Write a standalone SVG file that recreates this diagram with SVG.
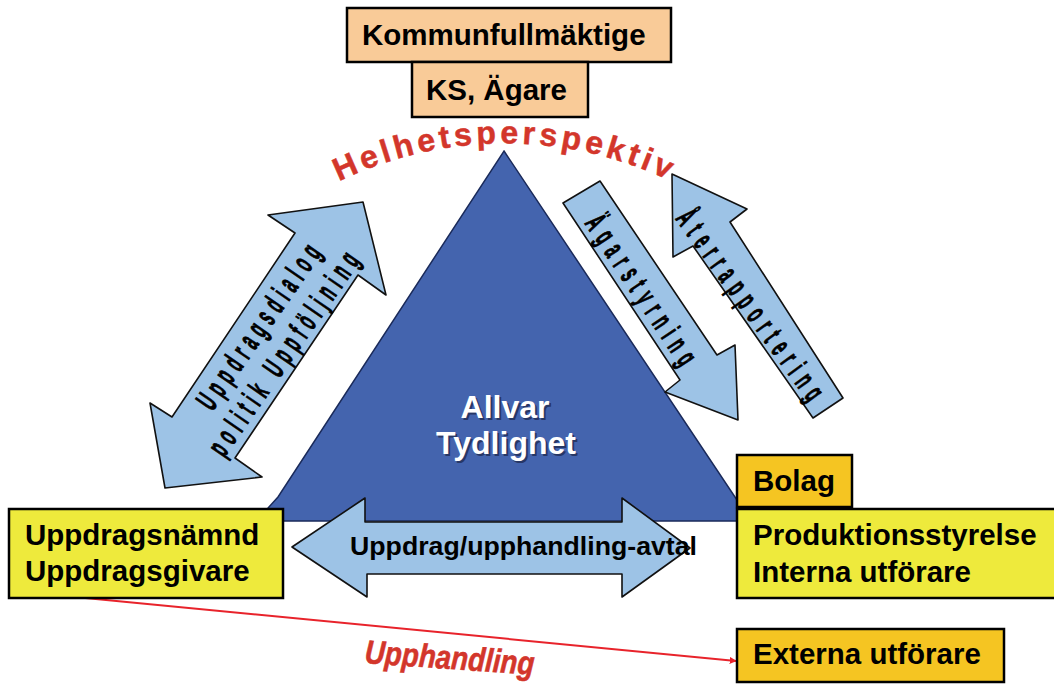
<svg xmlns="http://www.w3.org/2000/svg" width="1054" height="684" viewBox="0 0 1054 684">
<defs>
<style>
.box{stroke:#000;stroke-width:2.5}
.peach{fill:#F9CB98}
.yellow{fill:#EEEA3C}
.orange{fill:#F5C522}
.bt{font-family:"Liberation Sans",Arial,sans-serif;font-weight:bold;font-size:29.5px;fill:#000}
.arr{fill:#9DC3E6;stroke:#111;stroke-width:1.6;stroke-linejoin:round}
.at{font-family:"Liberation Sans",Arial,sans-serif;font-weight:bold;font-size:31px;fill:#000;stroke:#000;stroke-width:1;text-anchor:middle}
.red{fill:#D3362B}
</style>
<marker id="ah" viewBox="0 0 10 10" refX="9" refY="5" markerWidth="7" markerHeight="7" orient="auto" markerUnits="userSpaceOnUse">
<path d="M0,0 L10,5 L0,10 Z" fill="#E8232B"/>
</marker>
<path id="arc" d="M 326,188 A 381 381 0 0 1 684,188" fill="none"/>
</defs>

<g id="triangle">
<path d="M504,151 L737,500 L737,521 L266,521 L268,508 L278,497 Z" fill="#4464AE" stroke="#1a2a5a" stroke-width="1.5"/>
<text x="507" y="420" text-anchor="middle" font-family="Liberation Sans,Arial,sans-serif" font-weight="bold" font-size="32" fill="#1b2448" opacity="0.7">Allvar</text>
<text x="505" y="418" text-anchor="middle" font-family="Liberation Sans,Arial,sans-serif" font-weight="bold" font-size="32" fill="#fff">Allvar</text>
<text x="508" y="456" text-anchor="middle" font-family="Liberation Sans,Arial,sans-serif" font-weight="bold" font-size="32" fill="#1b2448" opacity="0.7">Tydlighet</text>
<text x="506" y="454" text-anchor="middle" font-family="Liberation Sans,Arial,sans-serif" font-weight="bold" font-size="32" fill="#fff">Tydlighet</text>
</g>

<g id="connectors">
<g id="arrow-uppdragsdialog">
<polygon class="arr" points="268,215 363,202 386,295 358,275 235,458 262,477 165,488 150,403 172,417 295,233"/>
<g transform="translate(259,327) rotate(-55.3)"><text class="at" transform="scale(0.48,1)" x="0" y="10" textLength="402" lengthAdjust="spacing">Uppdragsdialog</text></g>
<g transform="translate(284,354) rotate(-55.3)"><text class="at" transform="scale(0.48,1)" x="0" y="10" textLength="500" lengthAdjust="spacing">politik Uppföljning</text></g>
</g>
<g id="arrow-agarstyrning">
<polygon class="arr" points="563,203 600,181 717,355 735,345 738,420 665,392 680,380"/>
<g transform="translate(641,290) rotate(56.2)"><text class="at" transform="scale(0.48,1)" x="0" y="10" textLength="362" lengthAdjust="spacing">Ägarstyrning</text></g>
</g>
<g id="arrow-aterrapportering">
<polygon class="arr" points="672,174 747,209 730,222 843,398 813,418 693,246 673,257"/>
<g transform="translate(750,305) rotate(54)"><text class="at" transform="scale(0.48,1)" x="0" y="10" textLength="475" lengthAdjust="spacing">Återrapportering</text></g>
</g>
<g id="arrow-avtal">
<polygon class="arr" points="292,547 365,498 365,522 622,522 622,498 690,548 622,597 622,574 367,574 367,597"/>
<text x="350" y="555" font-family="Liberation Sans,Arial,sans-serif" font-weight="bold" font-size="25" fill="#000" textLength="347" lengthAdjust="spacingAndGlyphs">Uppdrag/upphandling-avtal</text>
</g>
<g id="upphandling">
<line x1="75" y1="597" x2="736" y2="661" stroke="#E8232B" stroke-width="2" marker-end="url(#ah)"/>
<text transform="translate(449,669) rotate(4)" text-anchor="middle" font-family="Liberation Sans,Arial,sans-serif" font-weight="bold" font-style="italic" font-size="33" class="red" stroke="#D3362B" stroke-width="0.6" textLength="170" lengthAdjust="spacingAndGlyphs">Upphandling</text>
</g>
</g>

<g id="helhetsperspektiv">
<text font-family="Liberation Sans,Arial,sans-serif" font-weight="bold" font-size="32" letter-spacing="4" class="red" stroke="#D3362B" stroke-width="0.5"><textPath href="#arc" startOffset="50%" text-anchor="middle">Helhetsperspektiv</textPath></text>
</g>

<g id="kommunfullmaktige">
<rect class="box peach" x="347" y="8" width="324" height="54"/>
<text class="bt" x="362" y="45">Kommunfullmäktige</text>
</g>
<g id="ks-agare">
<rect class="box peach" x="412" y="62" width="176" height="55"/>
<text class="bt" x="426" y="100">KS, Ägare</text>
</g>
<g id="uppdragsnamnd">
<rect class="box yellow" x="9" y="509" width="274" height="89"/>
<text class="bt" x="25" y="545">Uppdragsnämnd</text>
<text class="bt" x="25" y="581">Uppdragsgivare</text>
</g>
<g id="bolag">
<rect class="box orange" x="737" y="455" width="115" height="52"/>
<text class="bt" x="753" y="491">Bolag</text>
</g>
<g id="produktionsstyrelse">
<rect class="box yellow" x="737" y="509" width="320" height="89"/>
<text class="bt" x="753" y="545">Produktionsstyrelse</text>
<text class="bt" x="753" y="582">Interna utförare</text>
</g>
<g id="externa">
<rect class="box orange" x="737" y="629" width="267" height="53"/>
<text class="bt" x="753" y="664">Externa utförare</text>
</g>
</svg>
